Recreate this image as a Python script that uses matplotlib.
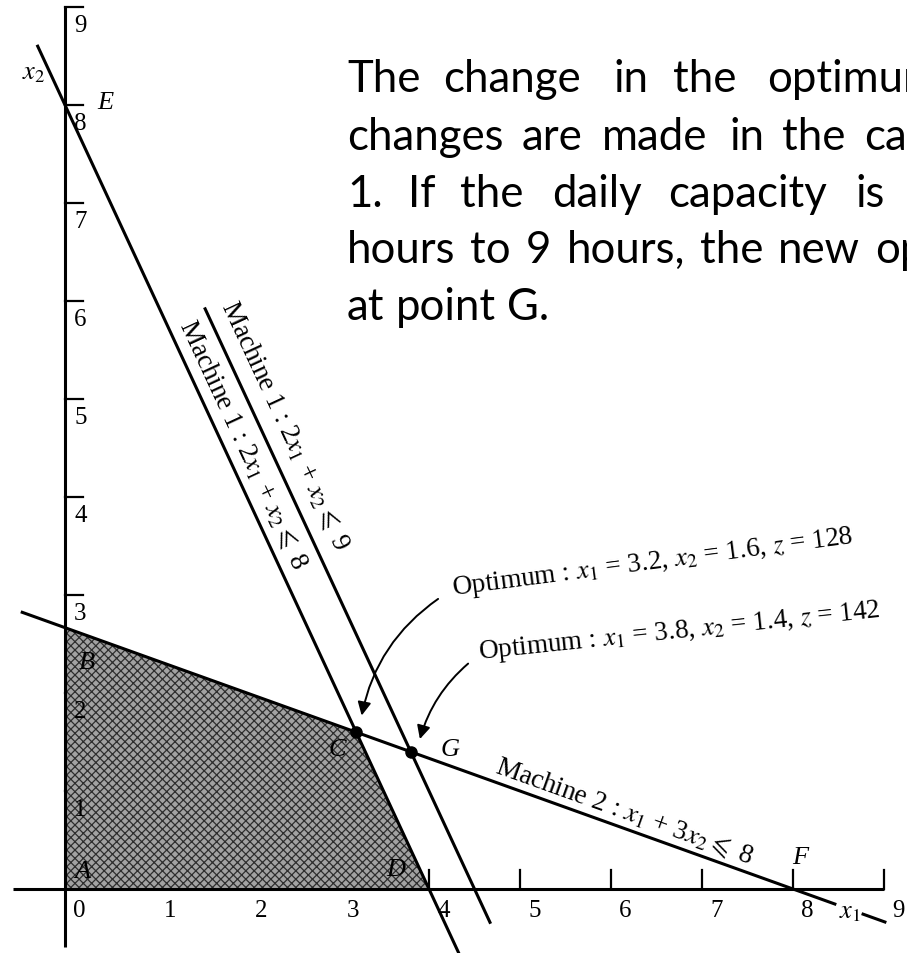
import numpy as np
import matplotlib
matplotlib.use("Agg")
import matplotlib.pyplot as plt
from matplotlib.patches import Polygon, FancyArrowPatch

plt.rcParams['mathtext.fontset'] = 'stix'
plt.rcParams['hatch.linewidth'] = 0.9

# ---- model data: a1*x1 + a2*x2 <= b ----
machine1_coef = (2, 1)
machine1_hours_old = 8
machine1_hours_new = 9
machine2_coef = (1, 3)
machine2_hours = 8

x_ticks = [0, 1, 2, 3, 4, 5, 6, 7, 8, 9]
y_ticks = [1, 2, 3, 4, 5, 6, 7, 8, 9]

optimum_old = (3.2, 1.6, 128)   # x1, x2, z
optimum_new = (3.8, 1.4, 142)

# drawn extent (x1 range) of each constraint line
m1_old_span = (-0.30, 4.34)
m1_new_span = (1.54, 4.67)
m2_spans = [(-0.47, 8.46), (8.77, 9.01)]

# justified paragraph: baseline (px from top) and word start positions (px)
paragraph = [
    (92,  [("The", 347), ("change", 443), ("in", 613), ("the", 673), ("optimum", 767)]),
    (150, [("changes", 347), ("are", 522), ("made", 602), ("in", 729), ("the", 782), ("capacity", 864)]),
    (207, [("1.", 347), ("If", 408), ("the", 460), ("daily", 552), ("capacity", 668), ("is", 855)]),
]
# lines spread evenly between a left edge and the start of their last word
spread_lines = [
    (263, ["hours", "to", "9", "hours,", "the", "new", "optimum"], 347, 875),
    (320, ["at", "point", "G."], 347, None),
]


def x2_on(coef, b, x1):
    return (b - coef[0] * np.asarray(x1, dtype=float)) / coef[1]


W, H = 907, 954
fig = plt.figure(figsize=(W / 100, H / 100), dpi=100)
ax = fig.add_axes([0, 0, 1, 1])
ax.set_xlim(-65 / 91, (W - 65) / 91)
ax.set_ylim(-(H - 890) / 98, 890 / 98)
ax.axis('off')

serif = 'Liberation Serif'
lw = 2.2
label_fs = 19.5
para_fs = 31.5

# feasible region for the original capacities
xB = x2_on(machine2_coef, machine2_hours, 0.0)
xD = machine1_hours_old / machine1_coef[0]
region = np.array([[0, 0], [0, xB], [optimum_old[0], optimum_old[1]], [xD, 0]])
ax.add_patch(Polygon(region, closed=True, facecolor='#a2a2a2', edgecolor='#2e2e2e',
                     hatch='xxxx', linewidth=0, zorder=1))

# coordinate axes
ax.plot([-0.57, x_ticks[-1]], [0, 0], color='black', lw=lw, zorder=2, solid_capstyle='butt')
ax.plot([0, 0], [-0.59, y_ticks[-1]], color='black', lw=lw, zorder=2, solid_capstyle='butt')
for t in x_ticks[1:]:
    ax.plot([t, t], [0, 0.19], color='black', lw=1.6, zorder=0.5)
for t in y_ticks:
    ax.plot([0, 0.2], [t, t], color='black', lw=1.6, zorder=0.5)
for t in x_ticks:
    ax.text(t + 0.16, -0.21, str(t), ha='center', va='center', fontsize=18,
            family=serif, zorder=4)
for t in y_ticks:
    ax.text(0.17, t - 0.18, str(t), ha='center', va='center', fontsize=18,
            family=serif, zorder=4)

# constraint lines
xs = np.array(m1_old_span)
ax.plot(xs, x2_on(machine1_coef, machine1_hours_old, xs), color='black', lw=lw, zorder=3)
xs = np.array(m1_new_span)
ax.plot(xs, x2_on(machine1_coef, machine1_hours_new, xs), color='black', lw=lw, zorder=3)
for span in m2_spans:
    xs = np.array(span)
    ax.plot(xs, x2_on(machine2_coef, machine2_hours, xs), color='black', lw=lw, zorder=3)

# optimum points
ax.plot([optimum_old[0], optimum_new[0]], [optimum_old[1], optimum_new[1]], 'o',
        color='black', ms=8, zorder=5)

# constraint labels
ang1 = -np.degrees(np.arctan(machine1_coef[0] / machine1_coef[1] * 98 / 91))
ang2 = -np.degrees(np.arctan(machine2_coef[0] / machine2_coef[1] * 98 / 91))
ax.text(2.42, 4.74, r"Machine 1 : 2$x_1$ + $x_2 \leqslant$ " + str(machine1_hours_new),
        rotation=ang1, rotation_mode='anchor', ha='center', va='center',
        fontsize=label_fs, family=serif, zorder=4)
ax.text(1.96, 4.54, r"Machine 1 : 2$x_1$ + $x_2 \leqslant$ " + str(machine1_hours_old),
        rotation=ang1, rotation_mode='anchor', ha='center', va='center',
        fontsize=label_fs, family=serif, zorder=4)
ax.text(6.15, 0.80, r"Machine 2 : $x_1$ + 3$x_2 \leqslant$ " + str(machine2_hours),
        rotation=ang2, rotation_mode='anchor', ha='center', va='center',
        fontsize=label_fs, family=serif, zorder=4)

# optimum annotations
ax.text(6.46, 3.34,
        r"Optimum : $x_1$ = %.1f, $x_2$ = %.1f, $z$ = %d" % optimum_old,
        rotation=7.4, rotation_mode='anchor', ha='center', va='center',
        fontsize=label_fs, family=serif, zorder=4)
ax.text(6.75, 2.63,
        r"Optimum : $x_1$ = %.1f, $x_2$ = %.1f, $z$ = %d" % optimum_new,
        rotation=6.0, rotation_mode='anchor', ha='center', va='center',
        fontsize=label_fs, family=serif, zorder=4)
ax.add_patch(FancyArrowPatch((4.10, 2.96), (3.26, 1.77), arrowstyle='-|>',
                             connectionstyle='arc3,rad=0.2', mutation_scale=20,
                             lw=1.4, color='black', shrinkA=0, shrinkB=0, zorder=5))
ax.add_patch(FancyArrowPatch((4.43, 2.30), (3.90, 1.53), arrowstyle='-|>',
                             connectionstyle='arc3,rad=0.15', mutation_scale=20,
                             lw=1.4, color='black', shrinkA=0, shrinkB=0, zorder=5))

# corner-point letters and axis names
letters = [("A", 0.19, 0.18), ("B", 0.24, 2.32), ("C", 2.99, 1.43), ("D", 3.63, 0.20),
           ("E", 0.44, 8.03), ("F", 8.08, 0.33), ("G", 4.23, 1.43)]
for s, lx, ly in letters:
    ax.text(lx, ly, s, ha='center', va='center', fontsize=19, family=serif,
            style='italic', zorder=4)
ax.text(-0.35, 8.34, r"$x_2$", ha='center', va='center', fontsize=19, zorder=4)
ax.text(8.63, -0.22, r"$x_1$", ha='center', va='center', fontsize=19, zorder=4)

# explanatory paragraph
for base, words in paragraph:
    for w, px in words:
        fig.text(px / W, 1 - base / H, w, ha='left', va='baseline',
                 fontsize=para_fs, family='Lato', color='black')

renderer = fig.canvas.get_renderer()


def text_width(s):
    probe = fig.text(0, 0, s, fontsize=para_fs, family='Lato')
    width = probe.get_window_extent(renderer).width
    probe.remove()
    return width


natural_gap = text_width("a a") - 2 * text_width("a")
for base, words, left, last_start in spread_lines:
    widths = [text_width(w) for w in words]
    if last_start is None:
        gap = natural_gap
    else:
        gap = (last_start - left - sum(widths[:-1])) / (len(words) - 1)
    x = left
    for w, wd in zip(words, widths):
        fig.text(x / W, 1 - base / H, w, ha='left', va='baseline',
                 fontsize=para_fs, family='Lato', color='black')
        x += wd + gap

fig.savefig('out.png', dpi=100)
